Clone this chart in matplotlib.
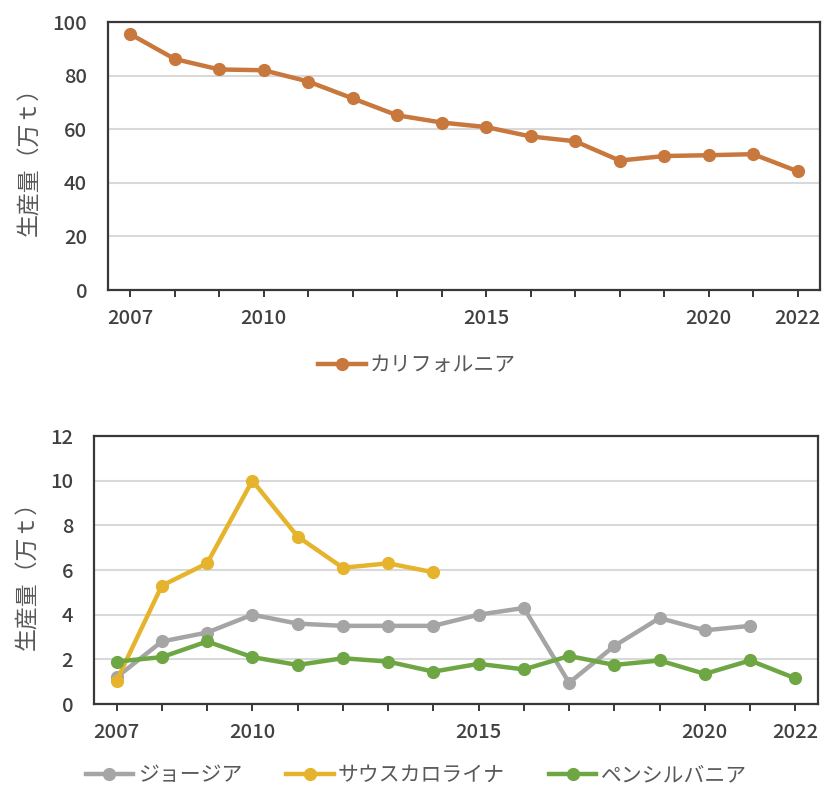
import numpy as np
import matplotlib.pyplot as plt

plt.rcParams['font.family'] = ['Noto Sans CJK JP', 'DejaVu Sans']

years = list(range(2007, 2023))
tick_years = [2007, 2010, 2015, 2020, 2022]

california = [95.5, 86.2, 82.3, 82.0, 77.8, 71.5, 65.2, 62.5, 60.8, 57.3, 55.5,
              48.3, 50.0, 50.3, 50.7, 44.3]

georgia = [1.2, 2.8, 3.2, 4.0, 3.6, 3.5, 3.5, 3.5, 4.0, 4.3, 0.95, 2.6, 3.85, 3.3,
           3.5, np.nan]
south_carolina = [1.05, 5.3, 6.3, 10.0, 7.5, 6.1, 6.3, 5.9] + [np.nan] * 8
pennsylvania = [1.9, 2.1, 2.8, 2.1, 1.75, 2.05, 1.9, 1.45, 1.8, 1.55, 2.15, 1.75,
                1.95, 1.35, 1.95, 1.15]

ylabel = '生産量（万ｔ）'
text_color = '#595959'
tick_color = '#404040'
frame_color = '#383838'


def style_axes(ax, ymax, ystep):
    ax.set_xlim(2006.5, 2022.5)
    ax.set_ylim(0, ymax)
    ax.set_yticks(np.arange(0, ymax + 0.1, ystep))
    ax.set_xticks(years)
    ax.set_xticklabels([str(y) if y in tick_years else '' for y in years])
    ax.yaxis.grid(True, color='#d9d9d9', linewidth=1.5)
    ax.set_axisbelow(True)
    for s in ax.spines.values():
        s.set_color(frame_color)
        s.set_linewidth(1.6)
    ax.tick_params(axis='x', direction='out', length=5, width=1.4,
                   color=frame_color, pad=9, labelsize=14.5,
                   labelcolor=tick_color)
    ax.tick_params(axis='y', length=0, pad=15, labelsize=14.5,
                   labelcolor=tick_color)
    for lab in ax.get_xticklabels() + ax.get_yticklabels():
        lab.set_fontweight('medium')
    ax.set_ylabel(ylabel, fontsize=16.5, color=text_color, labelpad=8)


fig = plt.figure(figsize=(8.23, 7.89), dpi=100)

ax1 = fig.add_axes([0.1312, 0.6324, 0.865, 0.3397])
ax1.plot(years, california, color='#c8773d', lw=3.2, marker='o', ms=8.5,
         label='カリフォルニア')
style_axes(ax1, 100, 20)
ax1.legend(loc='center', bbox_to_anchor=(0.434, -0.28), frameon=False,
           fontsize=15, labelcolor=text_color, handlelength=2.3,
           handletextpad=0.2)

ax2 = fig.add_axes([0.1142, 0.1077, 0.8797, 0.3397])
ax2.plot(years, georgia, color='#a5a5a5', lw=3.2, marker='o', ms=8.5,
         label='ジョージア')
ax2.plot(years, south_carolina, color='#e6b42c', lw=3.2, marker='o', ms=8.5,
         label='サウスカロライナ')
ax2.plot(years, pennsylvania, color='#6fa644', lw=3.2, marker='o', ms=8.5,
         label='ペンシルバニア')
style_axes(ax2, 12, 2)
ax2.legend(loc='center', bbox_to_anchor=(0.445, -0.265), ncol=3,
           frameon=False, fontsize=15, labelcolor=text_color,
           handlelength=2.3, handletextpad=0.2, columnspacing=2.1)

fig.savefig('out.png', dpi=100)
